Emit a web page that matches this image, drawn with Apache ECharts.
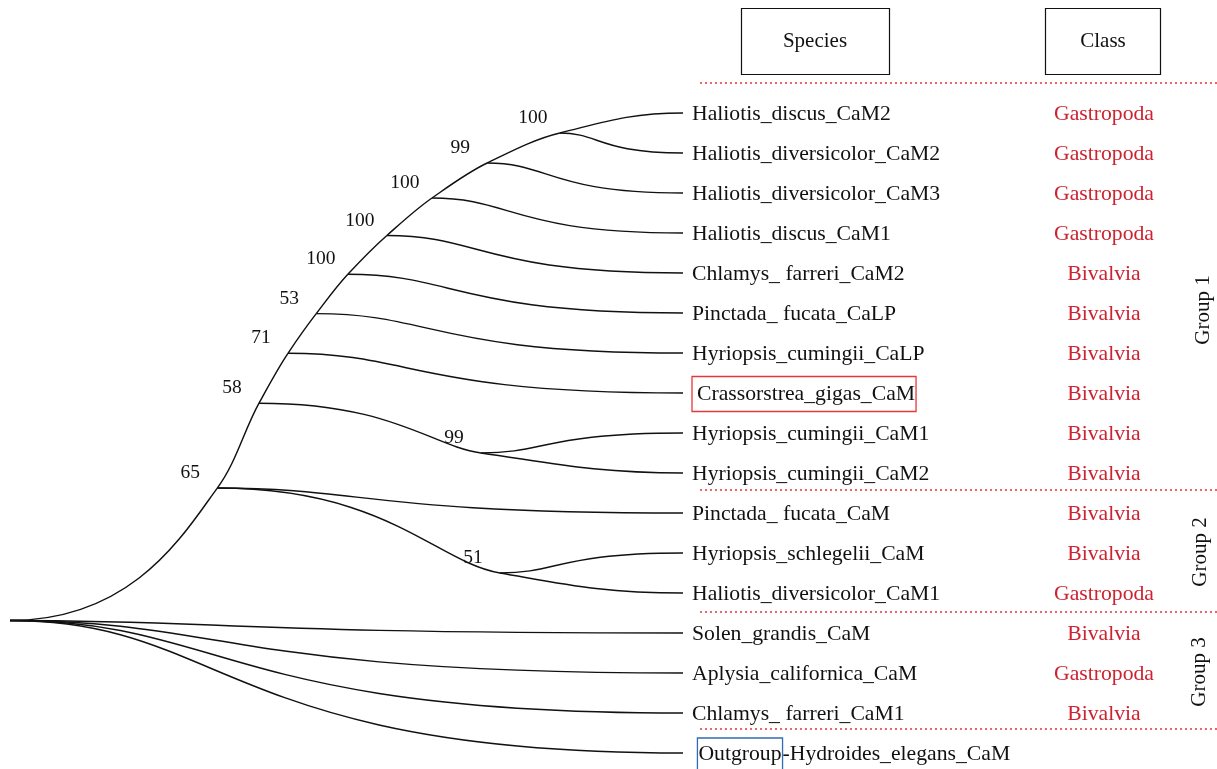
<!DOCTYPE html>
<html>
<head>
<meta charset="utf-8">
<script src="https://cdn.jsdelivr.net/npm/echarts@6/dist/echarts.min.js"></script>
<style>
  html, body { margin: 0; padding: 0; background: #fff; }
  #chart { width: 1217px; height: 769px; }
</style>
</head>
<body>
<div id="chart"></div>
<script>
// ---- Tree data -------------------------------------------------------------
// Tips, top to bottom
const leafNames = [
  'Haliotis_discus_CaM2', 'Haliotis_diversicolor_CaM2', 'Haliotis_diversicolor_CaM3',
  'Haliotis_discus_CaM1', 'Chlamys_ farreri_CaM2', 'Pinctada_ fucata_CaLP',
  'Hyriopsis_cumingii_CaLP', 'Crassorstrea_gigas_CaM', 'Hyriopsis_cumingii_CaM1',
  'Hyriopsis_cumingii_CaM2', 'Pinctada_ fucata_CaM', 'Hyriopsis_schlegelii_CaM',
  'Haliotis_diversicolor_CaM1', 'Solen_grandis_CaM', 'Aplysia_californica_CaM',
  'Chlamys_ farreri_CaM1', 'Outgroup-Hydroides_elegans_CaM'
];
const leafClasses = [
  'Gastropoda', 'Gastropoda', 'Gastropoda', 'Gastropoda', 'Bivalvia', 'Bivalvia',
  'Bivalvia', 'Bivalvia', 'Bivalvia', 'Bivalvia', 'Bivalvia', 'Bivalvia',
  'Gastropoda', 'Bivalvia', 'Gastropoda', 'Bivalvia', ''
];
// Internal nodes: depth on the horizontal scale (root 0, tips 100) and bootstrap support
const nodeIds     = ['root', 'n65', 'n58', 'n71', 'n53', 'n100e', 'n100d', 'n100c', 'n99', 'n100a', 'n99b', 'n51'];
const nodeDepth   = [0, 30.8, 37.0, 41.3, 45.5, 50.2, 56.0, 62.7, 70.9, 81.7, 70.0, 72.8];
const nodeSupport = [null, 65, 58, 71, 53, 100, 100, 100, 99, 100, 99, 51];
// Children of each node (numbers = tip index, strings = node id); the first child carries the branch on
const nodeChildren = [
  ['n65', 13, 14, 15, 16],
  ['n58', 10, 'n51'],
  ['n71', 'n99b'],
  ['n53', 7],
  ['n100e', 6],
  ['n100d', 5],
  ['n100c', 4],
  ['n99', 3],
  ['n100a', 2],
  [0, 1],
  [9, 8],
  [12, 11]
];
const groupNames = ['Group 1', 'Group 2', 'Group 3'];
const highlightedLeaf = 'Crassorstrea_gigas_CaM';
const outgroupTag = 'Outgroup';

// ---- Layout helpers --------------------------------------------------------
const TIP_DEPTH = 100;
const key = c => (typeof c === 'number' ? 'L' + c : c);
const pos = {};      // key -> [depth, row]
const parentOf = {};
const mainChild = {};
leafNames.forEach((n, i) => { pos['L' + i] = [TIP_DEPTH, i + 1]; });
nodeIds.forEach((id, i) => {
  nodeChildren[i].forEach(c => { parentOf[key(c)] = id; });
  mainChild[id] = key(nodeChildren[i][0]);
});
// a node sits halfway between its outermost children
function rowOf(k) {
  if (pos[k]) return pos[k][1];
  const i = nodeIds.indexOf(k);
  const rows = nodeChildren[i].map(c => rowOf(key(c)));
  const r = (Math.min(...rows) + Math.max(...rows)) / 2;
  pos[k] = [nodeDepth[i], r];
  return r;
}
rowOf('root');

const edges = [];
nodeIds.forEach((id, i) => nodeChildren[i].forEach(c => edges.push({ p: id, c: key(c) })));

const isLeaf = k => k[0] === 'L';
function unit(v) { const l = Math.hypot(v[0], v[1]) || 1; return [v[0] / l, v[1] / l]; }

const FONT = '"Liberation Serif", "Times New Roman", serif';
const INK = '#111111';
const RED = '#cc2330';
const TEXT_SIZE = 21.7;

const chart = echarts.init(document.getElementById('chart'), null, { renderer: 'canvas' });

// Each branch is a cubic curve: side branches leave their node horizontally,
// the carried-on branch keeps the node's running direction, tips are reached horizontally.
function edgeItem(params, api) {
  const P = k => api.coord(pos[k]);
  const tangent = k => {
    if (k === 'root' || isLeaf(k)) return [1, 0];
    const a = P(parentOf[k]), b = P(k), c = P(mainChild[k]);
    const u1 = unit([b[0] - a[0], b[1] - a[1]]);
    const u2 = unit([c[0] - b[0], c[1] - b[1]]);
    return unit([u1[0] + 2 * u2[0], u1[1] + 2 * u2[1]]);
  };
  const e = edges[params.dataIndex];
  const a = P(e.p), b = P(e.c);
  const dx = b[0] - a[0], d = Math.hypot(dx, b[1] - a[1]);
  const carried = e.p !== 'root' && mainChild[e.p] === e.c;
  const t0 = carried ? tangent(e.p) : [1, 0];
  const t1 = tangent(e.c);
  let h0, h1;
  if (carried) {
    h0 = d * 0.34;
    h1 = isLeaf(e.c) ? dx * 0.45 : d * 0.34;
  } else if (isLeaf(e.c)) {
    h0 = dx * 0.32; h1 = dx * 0.68;
  } else {
    h0 = dx * 0.6; h1 = d * 0.22;
  }
  return {
    type: 'bezierCurve',
    shape: {
      x1: a[0], y1: a[1], x2: b[0], y2: b[1],
      cpx1: a[0] + t0[0] * h0, cpy1: a[1] + t0[1] * h0,
      cpx2: b[0] - t1[0] * h1, cpy2: b[1] - t1[1] * h1
    },
    style: { stroke: INK, lineWidth: 1.45, fill: 'none' }
  };
}

function classItem(params, api) {
  const row = api.value(1);
  const y = api.coord([TIP_DEPTH, row])[1];
  return {
    type: 'text',
    x: 1104, y: y + 1,
    style: {
      text: leafClasses[params.dataIndex], fill: RED,
      font: TEXT_SIZE + 'px ' + FONT, align: 'center', verticalAlign: 'middle'
    }
  };
}

function supportItem(params, api) {
  const p = api.coord([api.value(0), api.value(1)]);
  return {
    type: 'text',
    x: p[0] - 27, y: p[1] - 15,
    style: {
      text: String(api.value(2)), fill: INK,
      font: '19.5px ' + FONT, align: 'center', verticalAlign: 'middle'
    }
  };
}

function leafLabel(p) {
  const name = leafNames[p.dataIndex];
  if (name === highlightedLeaf) return '{hl|' + name + '}';
  if (name.indexOf(outgroupTag + '-') === 0) return ' {og|' + outgroupTag + '}' + name.slice(outgroupTag.length);
  return name;
}

const supportNodes = nodeIds.map((id, i) => ({ id, s: nodeSupport[i] })).filter(n => n.s != null);

chart.setOption({
  animation: false,
  backgroundColor: '#fff',
  grid: { left: 10, top: 113, width: 673, height: 640 },
  xAxis: { type: 'value', min: 0, max: TIP_DEPTH, show: false },
  yAxis: { type: 'value', min: 1, max: 17, inverse: true, show: false },
  series: [
    {
      type: 'custom',
      name: 'branches',
      renderItem: edgeItem,
      data: edges.map(e => pos[e.c].slice()),
      silent: true,
      z: 2
    },
    {
      type: 'custom',
      name: 'support',
      renderItem: supportItem,
      data: supportNodes.map(n => [pos[n.id][0], pos[n.id][1], n.s]),
      silent: true,
      z: 3
    },
    {
      type: 'scatter',
      name: 'tips',
      symbolSize: 0,
      itemStyle: { opacity: 1 },
      data: leafNames.map((n, i) => pos['L' + i].slice()),
      label: {
        show: true, position: 'right', distance: 9, offset: [0, 1], opacity: 1,
        formatter: leafLabel,
        fontFamily: FONT, fontSize: TEXT_SIZE, color: INK,
        rich: {
          hl: {
            fontFamily: FONT, fontSize: TEXT_SIZE, color: INK,
            borderColor: '#e8373a', borderWidth: 1.3, padding: [7, 1, 6, 5]
          },
          og: {
            fontFamily: FONT, fontSize: TEXT_SIZE, color: INK,
            borderColor: '#2f6cb4', borderWidth: 1.3, padding: [5, 1, 5, 1]
          }
        }
      },
      silent: true,
      z: 3
    },
    {
      type: 'custom',
      name: 'class',
      renderItem: classItem,
      data: leafNames.map((n, i) => pos['L' + i].slice()),
      silent: true,
      z: 3
    }
  ],
  graphic: [
    { type: 'rect', shape: { x: 741.5, y: 8.5, width: 148, height: 66 }, style: { fill: 'none', stroke: INK, lineWidth: 1.2 } },
    { type: 'text', x: 815, y: 41, style: { text: 'Species', font: '21px ' + FONT, fill: INK, align: 'center', verticalAlign: 'middle' } },
    { type: 'rect', shape: { x: 1045.5, y: 8.5, width: 115, height: 66 }, style: { fill: 'none', stroke: INK, lineWidth: 1.2 } },
    { type: 'text', x: 1103, y: 41, style: { text: 'Class', font: '21px ' + FONT, fill: INK, align: 'center', verticalAlign: 'middle' } },
    ...[83, 490, 612, 729].map(y => ({
      type: 'line', shape: { x1: 700, y1: y, x2: 1217, y2: y },
      style: { stroke: '#e5333a', lineWidth: 1.5, lineDash: [2, 3] }
    })),
    ...[[1203, 310], [1200, 552], [1199, 672]].map((p, i) => ({
      type: 'text', x: p[0], y: p[1], rotation: Math.PI / 2,
      style: { text: groupNames[i], font: '21px ' + FONT, fill: INK, align: 'center', verticalAlign: 'middle' }
    }))
  ]
});
</script>
</body>
</html>
